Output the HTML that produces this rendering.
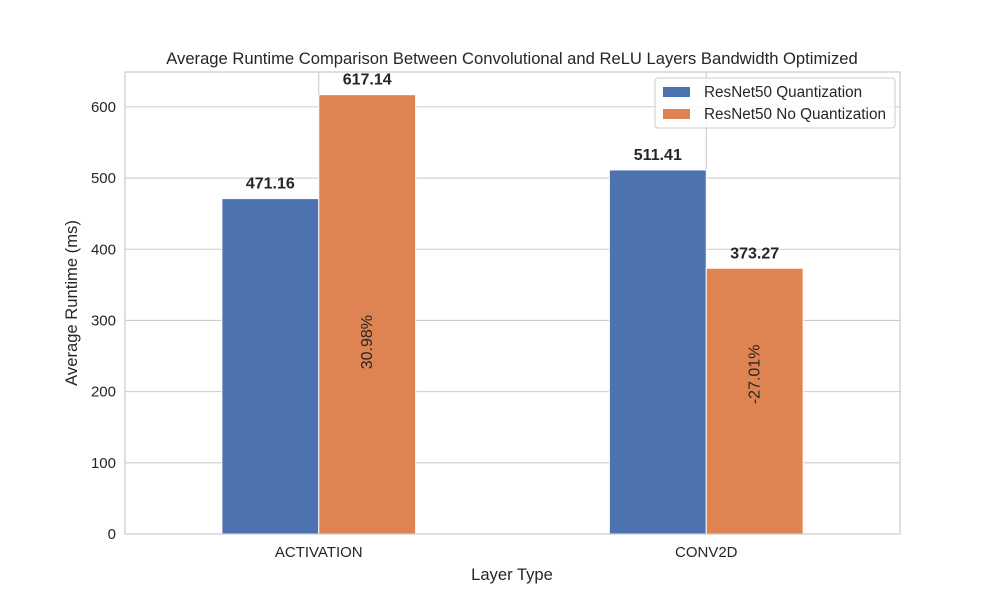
<!DOCTYPE html>
<html><head><meta charset="utf-8"><style>
body{margin:0;background:#fff;font-family:"Liberation Sans","DejaVu Sans",sans-serif;}
svg text{font-family:"Liberation Sans","DejaVu Sans",sans-serif;fill:#262626;}
</style></head><body>
<svg id="chart" width="1000" height="600">
<rect width="1000" height="600" fill="#fff"/>
<g id="grid"></g><g id="bars"></g><g id="labels"></g>
<rect x="125" y="72" width="775" height="462" fill="none" stroke="#cccccc" stroke-width="1.25"/>
<g id="ticks"></g>
<text x="512" y="64" text-anchor="middle" font-size="16.6">Average Runtime Comparison Between Convolutional and ReLU Layers Bandwidth Optimized</text>
<text x="512" y="580" text-anchor="middle" font-size="16.6">Layer Type</text>
<text transform="translate(77,303) rotate(-90)" text-anchor="middle" font-size="16.6">Average Runtime (ms)</text>
<g>
<rect x="655" y="78" width="240" height="50" rx="3" fill="#fff" fill-opacity="0.8" stroke="#cccccc"/>
<g><rect x="663" y="87" width="27" height="10" fill="#4c72b0"/><text x="704" y="97" font-size="15.3">ResNet50 Quantization</text></g>
<g><rect x="663" y="109" width="27" height="10" fill="#dd8452"/><text x="704" y="119" font-size="15.3">ResNet50 No Quantization</text></g>
</g>
</svg>
<script>
const categories=["ACTIVATION","CONV2D"];
const quantValues=[471.16,511.41];
const noQuantValues=[617.14,373.27];
const percentLabels=["30.98%","-27.01%"];
const yTicks=[0,100,200,300,400,500,600];
const NS="http://www.w3.org/2000/svg";
const L=125,R=900,T=72,B=534,YMAX=649;
const ys=v=>B-v/YMAX*(B-T);
const xs=i=>L+(i+0.5)*(R-L)/categories.length;
const bw=0.25*(R-L)/categories.length;
function mk(tag,attrs,parent,txt){const e=document.createElementNS(NS,tag);for(const k in attrs)e.setAttribute(k,attrs[k]);if(txt!==undefined)e.textContent=txt;document.getElementById(parent).appendChild(e);return e;}
yTicks.forEach(t=>{
 const g=mk('line',{x1:L,x2:R,y1:ys(t),y2:ys(t),stroke:'#cccccc','stroke-width':1.1},'grid');
 
 
 const l=mk('text',{x:L-9,y:ys(t)+5,'text-anchor':'end','font-size':15},'ticks',String(t));
 
 
});
categories.forEach((c,i)=>{
 const g=mk('line',{x1:xs(i),x2:xs(i),y1:T,y2:B,stroke:'#cccccc','stroke-width':1.1},'grid');
 
 
 const l=mk('text',{x:xs(i),y:B+23,'text-anchor':'middle','font-size':15},'ticks',c);
 
 
 const q=quantValues[i],n=noQuantValues[i];
 const b1=mk('rect',{x:xs(i)-bw,y:ys(q),width:bw,height:B-ys(q),fill:'#4c72b0',stroke:'#fff','stroke-width':1},'bars');
 
 
 const b2=mk('rect',{x:xs(i),y:ys(n),width:bw,height:B-ys(n),fill:'#dd8452',stroke:'#fff','stroke-width':1},'bars');
 
 
 const v1=mk('text',{x:xs(i)-bw/2,y:ys(q)-10,'text-anchor':'middle','font-size':16,'font-weight':'bold'},'labels',q.toFixed(2));
 
 
 const v2=mk('text',{x:xs(i)+bw/2,y:ys(n)-10,'text-anchor':'middle','font-size':16,'font-weight':'bold'},'labels',n.toFixed(2));
 
 
 const py=ys(Math.min(q,n)/2)+3, px=xs(i)+bw/2+5;
 const p=mk('text',{transform:`translate(${px},${py}) rotate(-90)`,'text-anchor':'start','font-size':16},'labels',percentLabels[i]);
 
 
});
</script>
</body></html>
